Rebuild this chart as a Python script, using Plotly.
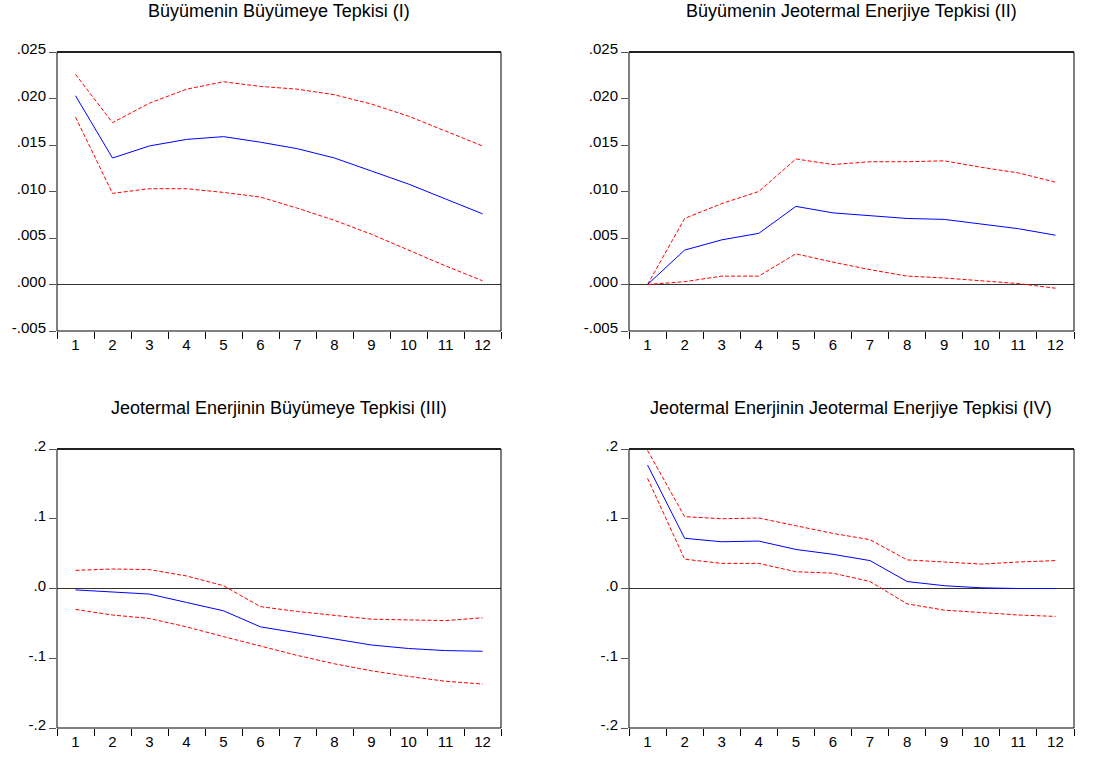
import plotly.graph_objects as go

# Impulse-response horizon (periods)
periods = list(range(1, 13))

# (I) Büyümenin Büyümeye Tepkisi
resp1 = [0.0203, 0.0136, 0.0149, 0.0156, 0.0159, 0.0153, 0.0146, 0.0136, 0.0122, 0.0108, 0.0092, 0.0076]
upper1 = [0.0226, 0.0174, 0.0195, 0.0210, 0.0218, 0.0213, 0.0210, 0.0204, 0.0194, 0.0181, 0.0165, 0.0149]
lower1 = [0.0180, 0.0098, 0.0103, 0.0103, 0.0099, 0.0094, 0.0082, 0.0069, 0.0054, 0.0037, 0.0020, 0.0004]

# (II) Büyümenin Jeotermal Enerjiye Tepkisi
resp2 = [0.0000, 0.0037, 0.0048, 0.0055, 0.0084, 0.0077, 0.0074, 0.0071, 0.0070, 0.0065, 0.0060, 0.0053]
upper2 = [0.0000, 0.0071, 0.0087, 0.0100, 0.0135, 0.0129, 0.0132, 0.0132, 0.0133, 0.0126, 0.0120, 0.0110]
lower2 = [0.0000, 0.0003, 0.0009, 0.0009, 0.0033, 0.0024, 0.0016, 0.0009, 0.0007, 0.0004, 0.0001, -0.0004]

# (III) Jeotermal Enerjinin Büyümeye Tepkisi
resp3 = [-0.002, -0.005, -0.008, -0.020, -0.032, -0.055, -0.064, -0.072, -0.081, -0.086, -0.089, -0.090]
upper3 = [0.026, 0.028, 0.027, 0.018, 0.004, -0.026, -0.033, -0.038, -0.044, -0.045, -0.046, -0.042]
lower3 = [-0.030, -0.038, -0.043, -0.055, -0.069, -0.083, -0.096, -0.108, -0.118, -0.126, -0.133, -0.137]

# (IV) Jeotermal Enerjinin Jeotermal Enerjiye Tepkisi
resp4 = [0.177, 0.072, 0.067, 0.068, 0.056, 0.049, 0.040, 0.010, 0.004, 0.001, 0.000, 0.000]
upper4 = [0.198, 0.103, 0.100, 0.101, 0.090, 0.079, 0.070, 0.041, 0.038, 0.035, 0.038, 0.040]
lower4 = [0.158, 0.042, 0.036, 0.036, 0.024, 0.022, 0.010, -0.022, -0.031, -0.035, -0.038, -0.040]

titles = [
    "Büyümenin Büyümeye Tepkisi (I)",
    "Büyümenin Jeotermal Enerjiye Tepkisi (II)",
    "Jeotermal Enerjinin Büyümeye Tepkisi (III)",
    "Jeotermal Enerjinin Jeotermal Enerjiye Tepkisi (IV)",
]

ytick_small = [0.025, 0.020, 0.015, 0.010, 0.005, 0.000, -0.005]
ytext_small = [".025", ".020", ".015", ".010", ".005", ".000", "-.005"]
ytick_large = [0.2, 0.1, 0.0, -0.1, -0.2]
ytext_large = [".2", ".1", ".0", "-.1", "-.2"]

W, H = 1105, 760
# panel boxes in pixels: (left, right, top, bottom)
boxes = [
    (57, 501, 52, 331),
    (629, 1074, 52, 331),
    (57, 501, 449, 728),
    (629, 1074, 449, 728),
]
panels = [
    (resp1, upper1, lower1, ytick_small, ytext_small, [-0.005, 0.025]),
    (resp2, upper2, lower2, ytick_small, ytext_small, [-0.005, 0.025]),
    (resp3, upper3, lower3, ytick_large, ytext_large, [-0.2, 0.2]),
    (resp4, upper4, lower4, ytick_large, ytext_large, [-0.2, 0.2]),
]

fig = go.Figure()
font = "Liberation Sans, Arial, sans-serif"
layout = dict(
    width=W, height=H, margin=dict(l=0, r=0, t=0, b=0, pad=0, autoexpand=False),
    paper_bgcolor="white", plot_bgcolor="white", showlegend=False,
    font=dict(family=font, size=15, color="black"),
)
annotations = []
shapes = []

for i, (box, panel) in enumerate(zip(boxes, panels)):
    left, right, top, bottom = box
    resp, up, lo, yt, ytt, yr = panel
    n = i + 1
    xa = "x" if n == 1 else f"x{n}"
    ya = "y" if n == 1 else f"y{n}"
    for series, color, dash in ((up, "#ff0000", "4px,2px"), (lo, "#ff0000", "4px,2px"), (resp, "#0000ff", "solid")):
        fig.add_trace(go.Scatter(
            x=periods, y=series, mode="lines", xaxis=xa, yaxis=ya,
            line=dict(color=color, width=1, dash=dash), hoverinfo="skip",
        ))
    xdom = [left / W, right / W]
    ydom = [1 - bottom / H, 1 - top / H]
    layout["xaxis" if n == 1 else f"xaxis{n}"] = dict(
        domain=xdom, anchor=ya, range=[0.5, 12.5], automargin=False,
        tickmode="array", tickvals=periods, ticktext=[str(p) for p in periods],
        ticks="", showgrid=False, zeroline=False, showline=False,
        ticklabelstandoff=3,
        tickfont=dict(size=15, color="black"),
        minor=dict(tickmode="array", tickvals=[p - 0.5 for p in periods] + [12.5],
                   ticks="outside", ticklen=7, tickwidth=1, tickcolor="black", showgrid=False),
    )
    layout["yaxis" if n == 1 else f"yaxis{n}"] = dict(
        domain=ydom, anchor=xa, range=yr, automargin=False,
        tickmode="array", tickvals=yt, ticktext=ytt,
        ticks="outside", ticklen=7, tickwidth=1, tickcolor="#555555",
        ticklabelshift=-3,
        showgrid=False, zeroline=True, zerolinecolor="#333333", zerolinewidth=1,
        showline=False, tickfont=dict(size=15, color="black"),
    )
    # plot frame
    shapes.append(dict(type="rect", xref="paper", yref="paper",
                       x0=xdom[0], x1=xdom[1], y0=ydom[0], y1=ydom[1],
                       line=dict(color="black", width=1), layer="above"))
    shapes.append(dict(type="line", xref="paper", yref="paper",
                       x0=xdom[0], x1=xdom[1], y0=ydom[1], y1=ydom[1],
                       line=dict(color="#222222", width=2), layer="above"))
    annotations.append(dict(
        text=titles[i], xref="paper", yref="paper",
        x=(xdom[0] + xdom[1]) / 2, y=1 - (top - 41) / H,
        xanchor="center", yanchor="middle", showarrow=False,
        font=dict(size=18, color="black", family=font),
    ))

layout["annotations"] = annotations
layout["shapes"] = shapes
fig.update_layout(**layout)
fig.write_html("out.html")
